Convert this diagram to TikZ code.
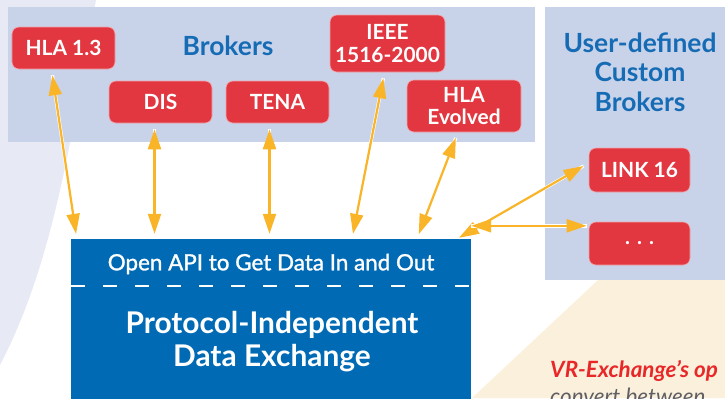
\documentclass[tikz,border=0pt]{standalone}
\usepackage{fontspec}
\setmainfont{Lato}
\newfontfamily\mediumfont{Lato}[FakeBold=1.2]
\usetikzlibrary{arrows.meta,positioning}

\definecolor{panelblue}{RGB}{200,211,234}
\definecolor{brokerred}{RGB}{226,55,64}
\definecolor{exchangeblue}{RGB}{0,106,180}
\definecolor{titleblue}{RGB}{22,108,180}
\definecolor{linkorange}{RGB}{250,180,40}
\definecolor{swirl}{RGB}{231,233,244}
\definecolor{parchment}{RGB}{251,240,220}
\definecolor{captionred}{RGB}{232,40,40}
\definecolor{captiongray}{RGB}{95,95,100}

\begin{document}
\begin{tikzpicture}[
    x=1bp, y=-1bp,
    panel/.style={rectangle, fill=panelblue, draw=none},
    broker/.style={rectangle, rounded corners=7bp, fill=brokerred, draw=brokerred!45!white, line width=0.6bp, text=white, font=\fontsize{21}{23}\selectfont\bfseries, align=center, inner sep=0pt, minimum width=103bp, minimum height=42bp},
    heading/.style={text=titleblue, font=\fontsize{26.5}{29.5}\selectfont\bfseries, align=center},
    link/.style={<->, >={Triangle[length=20bp, width=13bp]}, linkorange, line width=2.2bp, shorten <=6bp, shorten >=5bp, preaction={draw=white, line width=3.4bp, -}}
]
\useasboundingbox (0,0) rectangle (725,398);
\clip (0,0) rectangle (725,398);

% Background
\fill[swirl] (0,0) -- (96,0) .. controls (72,130) and (55,260) .. (0,365) -- cycle;
\fill[parchment] (598,280) -- (725,280) -- (725,398) -- (472,398) -- cycle;

% Panels
\node[panel, minimum width=527bp, minimum height=135bp] (brokers) at (271.5,74.5) {};
\node[panel, minimum width=190bp, minimum height=273bp] (custom) at (640,143.5) {};

% Titles
\node[heading] (brokerstitle) at (228,46) {Brokers};
\node[heading] (customtitle) at (640,72) {User-defined\\Custom\\Brokers};

% Brokers
\node[broker] (hla13) at (63.5,48) {HLA 1.3};
\node[broker] (dis) at (160.5,102) {DIS};
\node[broker] (tena) at (277.5,102) {TENA};
\node[broker, minimum width=115bp, minimum height=57bp] (ieee) at (387.5,43.5) {IEEE\\1516-2000};
\node[broker, minimum width=114bp, minimum height=52bp] (hlae) at (464,106) {HLA\\Evolved};
\node[broker, minimum width=101bp, minimum height=44bp] (link16) at (639.5,170) {LINK 16};
\node[broker, minimum width=101bp, minimum height=43bp] (more) at (639.5,243.5) {.\hspace{7bp}.\hspace{7bp}.};

% Data exchange
\node[rectangle, fill=exchangeblue, minimum width=400bp, minimum height=182bp] (exchange) at (271,330) {};
\node[text=white, font=\fontsize{22.5}{26}\mediumfont] (api) at (271,264) {Open API to Get Data In and Out};
\draw[white, line width=2bp, dash pattern=on 14bp off 18bp] ([yshift=-47bp]exchange.north west) -- ([yshift=-47bp]exchange.north east);
\node[text=white, font=\fontsize{30}{33}\selectfont\bfseries, align=center] (core) at (272,342) {Protocol-Independent\\Data Exchange};

% Links
\draw[link] ([xshift=-12bp]hla13.south) -- ([xshift=6bp]exchange.north west);
\draw[link] ([xshift=-6bp]dis.south) -- ([xshift=-6bp]dis.south |- exchange.north);
\draw[link] ([xshift=-8bp]tena.south) -- ([xshift=-8bp]tena.south |- exchange.north);
\draw[link] ([xshift=-3bp]ieee.south) -- ([xshift=81bp]exchange.north);
\draw[link] ([xshift=-6bp]hlae.south) -- ([xshift=146bp]exchange.north);
\draw[link, shorten >=2bp] ([yshift=7bp]link16.west) -- ([xshift=-14bp]exchange.north east);
\draw[link, shorten <=2bp, shorten >=0bp] ([yshift=13bp]exchange.north east -| more.west) -- ([yshift=13bp]exchange.north east);

% Caption
\node[anchor=base west, inner sep=0pt, text=captionred, font=\fontsize{22.5}{26}\selectfont\bfseries\itshape] (caption) at (550,377) {VR-Exchange’s op};
\node[anchor=base west, inner sep=0pt, text=captiongray, font=\fontsize{22.5}{26}\selectfont\itshape] (caption2) at (550,404) {convert between};
\end{tikzpicture}
\end{document}
